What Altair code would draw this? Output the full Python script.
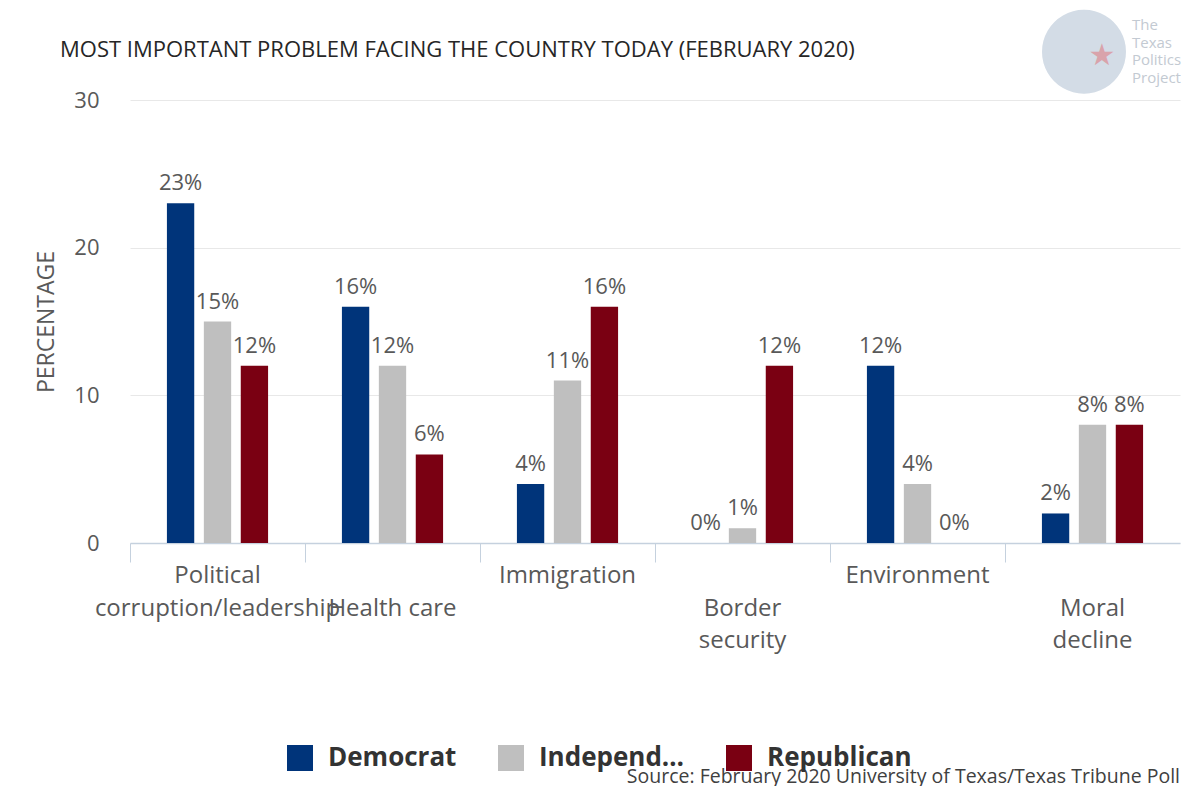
import altair as alt
import pandas as pd

categories = ["Political corruption/leadership", "Health care", "Immigration",
              "Border security", "Environment", "Moral decline"]
parties = ["Democrat", "Independent", "Republican"]
democrat = [23, 16, 4, 0, 12, 2]
independent = [15, 12, 11, 1, 4, 8]
republican = [12, 6, 16, 12, 0, 8]
party_colors = ["#00347a", "#bfbfbf", "#7a0012"]

NB = "\u00a0"  # blank lines push every other label down a row
label_lines = [["Political", "corruption/leadership"],
               [NB, NB, NB, "Health care"],
               ["Immigration"],
               [NB, NB, NB, "Border", "security"],
               ["Environment"],
               [NB, NB, NB, "Moral", "decline"]]

title_text = "MOST IMPORTANT PROBLEM FACING THE COUNTRY TODAY (FEBRUARY 2020)"
source_text = "Source: February 2020 University of Texas/Texas Tribune Poll"
logo_lines = ["The", "Texas", "Politics", "Project"]

FONT = "Open Sans"
GREY = "#595959"
AXIS_BLUE = "#c5d1de"

rows = []
for party, vals in zip(parties, [democrat, independent, republican]):
  for cat, v in zip(categories, vals):
    rows.append({"category": cat, "party": party, "pct": v,
                 "label": f"{v}%"})
df = pd.DataFrame(rows)
cat_df = pd.DataFrame({"category": categories, "lines": label_lines})
one = pd.DataFrame({"k": [0]})

x = alt.X("category:N", sort=categories, title=None,
          scale=alt.Scale(paddingInner=0, paddingOuter=0),
          axis=alt.Axis(labels=False, tickOffset=-87.5, tickSize=19,
                        tickColor=AXIS_BLUE, domainColor=AXIS_BLUE,
                        domainWidth=1.5, grid=False))
x_off = alt.XOffset("party:N", sort=parties,
                    scale=alt.Scale(paddingInner=0.26, paddingOuter=1))
y = alt.Y("pct:Q", title="PERCENTAGE",
          scale=alt.Scale(domain=[0, 30]),
          axis=alt.Axis(values=[0, 10, 20, 30], labelFont=FONT,
                        labelFontSize=22, labelColor=GREY, labelPadding=31,
                        ticks=False, domain=False, gridColor="#e8e8e8",
                        titleFont=FONT, titleFontSize=23, titleColor=GREY,
                        titleFontWeight="normal", titlePadding=15))

bars = alt.Chart(df).mark_bar().encode(
    x=x, xOffset=x_off, y=y,
    color=alt.Color("party:N", sort=parties,
                    scale=alt.Scale(domain=parties, range=party_colors),
                    legend=alt.Legend(
                        title=None, orient="bottom", direction="horizontal",
                        offset=25, padding=157, symbolType="square",
                        symbolSize=676, symbolStrokeWidth=0, labelFont=FONT,
                        labelFontSize=26, labelFontWeight="bold",
                        labelColor="#333333", labelOffset=15,
                        columnPadding=41)))

bar_text = alt.Chart(df).mark_text(
    baseline="bottom", dy=-8, font=FONT, fontSize=22, color=GREY
).encode(x=x, xOffset=x_off, y=y, text="label:N")

cat_labels = alt.Chart(cat_df).mark_text(
    baseline="top", font=FONT, fontSize=24, color=GREY, lineHeight=32.5
).encode(x=x, y=alt.value(464), text="lines")

title = alt.Chart(one).mark_text(
    align="left", baseline="middle", font=FONT, fontSize=22, color="#262626"
).encode(x=alt.value(-70), y=alt.value(-50), text=alt.value(title_text))

source = alt.Chart(one).mark_text(
    align="right", baseline="middle", font=FONT, fontSize=19.5, color="#404040"
).encode(x=alt.value(1050), y=alt.value(677), text=alt.value(source_text))

# logo: glyphs stand in for the badge
logo_circle = alt.Chart(one).mark_text(
    baseline="middle", font="DejaVu Sans", fontSize=110, color="#d3dce6"
).encode(x=alt.value(954), y=alt.value(-53), text=alt.value("\u25cf"))
logo_star = alt.Chart(one).mark_text(
    baseline="middle", font="DejaVu Sans", fontSize=30, color="#d9a3ab"
).encode(x=alt.value(972), y=alt.value(-44), text=alt.value("\u2605"))
logo_words = [
    alt.Chart(one).mark_text(
        align="left", baseline="middle", font=FONT, fontSize=15,
        color="#c3cad2"
    ).encode(x=alt.value(1002), y=alt.value(-75 + 17.5 * i),
             text=alt.value(word))
    for i, word in enumerate(logo_lines)]

chart = alt.layer(
    bars, bar_text, cat_labels, title, source, logo_circle, logo_star,
    *logo_words
).properties(
    width=1050, height=443, autosize="none", background="white",
    padding={"left": 122, "top": 92, "right": 10, "bottom": 243},
).configure_view(stroke=None)

chart.save("out.html", embed_options={"renderer": "svg", "actions": False})
